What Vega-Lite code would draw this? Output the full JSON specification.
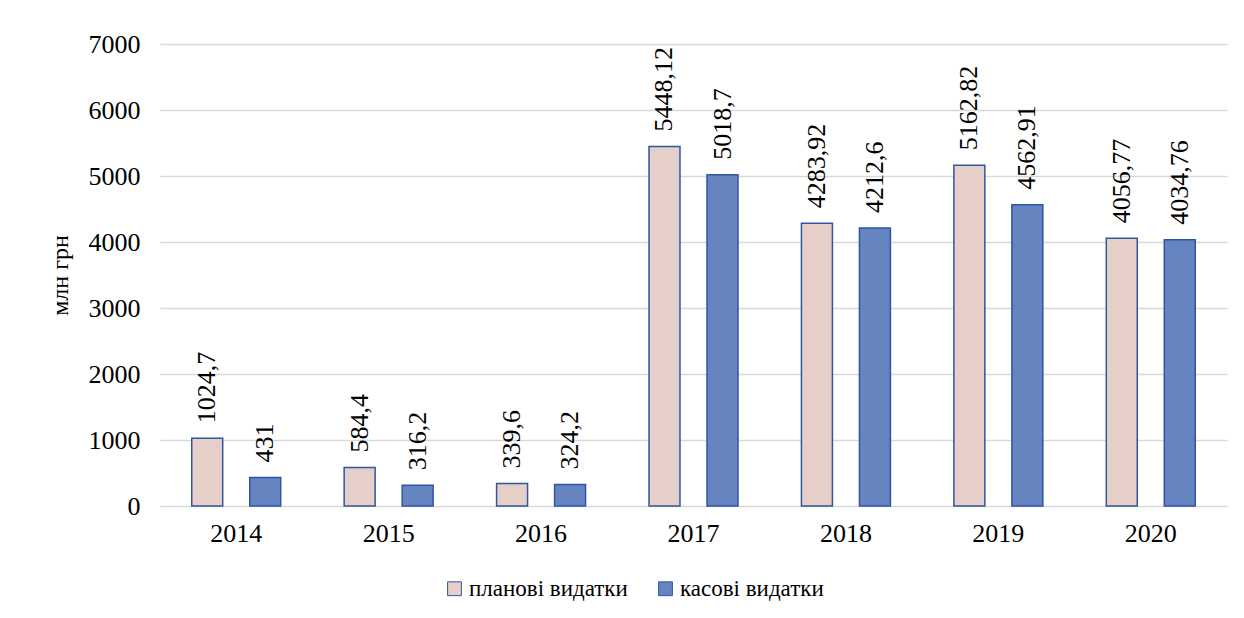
{
  "$schema": "https://vega.github.io/schema/vega-lite/v6.json",
  "width": 1067,
  "height": 462,
  "autosize": {"type": "none"},
  "padding": {"left": 160, "top": 44, "right": 17, "bottom": 112},
  "background": "white",
  "config": {
    "view": {"stroke": null},
    "font": "Liberation Serif",
    "legend": {"labelFont": "Liberation Serif"},
    "text": {"font": "Liberation Serif"}
  },
  "data": {
    "values": [
      {"year": "2014", "type": "планові видатки", "value": 1024.7, "label": "1024,7"},
      {"year": "2014", "type": "касові видатки", "value": 431, "label": "431"},
      {"year": "2015", "type": "планові видатки", "value": 584.4, "label": "584,4"},
      {"year": "2015", "type": "касові видатки", "value": 316.2, "label": "316,2"},
      {"year": "2016", "type": "планові видатки", "value": 339.6, "label": "339,6"},
      {"year": "2016", "type": "касові видатки", "value": 324.2, "label": "324,2"},
      {"year": "2017", "type": "планові видатки", "value": 5448.12, "label": "5448,12"},
      {"year": "2017", "type": "касові видатки", "value": 5018.7, "label": "5018,7"},
      {"year": "2018", "type": "планові видатки", "value": 4283.92, "label": "4283,92"},
      {"year": "2018", "type": "касові видатки", "value": 4212.6, "label": "4212,6"},
      {"year": "2019", "type": "планові видатки", "value": 5162.82, "label": "5162,82"},
      {"year": "2019", "type": "касові видатки", "value": 4562.91, "label": "4562,91"},
      {"year": "2020", "type": "планові видатки", "value": 4056.77, "label": "4056,77"},
      {"year": "2020", "type": "касові видатки", "value": 4034.76, "label": "4034,76"}
    ]
  },
  "encoding": {
    "x": {
      "field": "year", "type": "nominal", "title": null,
      "scale": {"paddingInner": 0, "paddingOuter": 0},
      "axis": {"labelAngle": 0, "labelFontSize": 26, "labelColor": "#000000", "labelFont": "Liberation Serif", "domain": false, "ticks": false, "labelPadding": 14}
    },
    "xOffset": {
      "field": "type", "type": "nominal",
      "sort": ["планові видатки", "касові видатки"],
      "scale": {"paddingInner": 0.466, "paddingOuter": 0.547}
    },
    "y": {
      "field": "value", "type": "quantitative", "title": "млн грн",
      "scale": {"domain": [0, 7000], "nice": false},
      "axis": {"values": [0, 1000, 2000, 3000, 4000, 5000, 6000, 7000], "format": "d", "labelFontSize": 26, "labelColor": "#000000", "labelFont": "Liberation Serif", "domain": false, "ticks": false, "labelPadding": 20, "gridColor": "#d9d9d9", "gridWidth": 1.5, "titleFontSize": 24, "titleFont": "Liberation Serif", "titleFontWeight": "normal", "titleColor": "#000000", "titlePadding": 16}
    }
  },
  "layer": [
    {
      "mark": {"type": "bar", "stroke": "#2f55a4", "strokeWidth": 1.5},
      "encoding": {
        "color": {
          "field": "type", "type": "nominal",
          "sort": ["планові видатки", "касові видатки"],
          "scale": {"domain": ["планові видатки", "касові видатки"], "range": ["#e6cfc8", "#6684c0"]},
          "legend": {
            "title": null, "orient": "none", "direction": "horizontal",
            "legendX": 283, "legendY": 533,
            "symbolType": "square", "symbolSize": 190, "symbolStrokeColor": "#2f55a4", "symbolStrokeWidth": 1,
            "labelFontSize": 23, "labelFont": "Liberation Serif", "labelColor": "#000000", "labelLimit": 400,
            "columnPadding": 26, "labelOffset": 3
          }
        }
      }
    },
    {
      "mark": {"type": "text", "angle": 270, "align": "left", "baseline": "middle", "dx": 15, "fontSize": 26, "font": "Liberation Serif", "color": "#000000"},
      "encoding": {
        "text": {"field": "label"}
      }
    }
  ]
}
